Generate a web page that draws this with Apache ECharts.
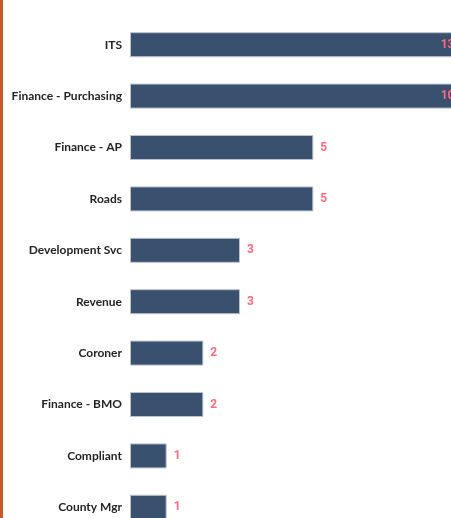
<!DOCTYPE html>
<html>
<head>
<meta charset="utf-8">
<script src="https://cdn.jsdelivr.net/npm/echarts@6/dist/echarts.min.js"></script>
<style>
  html, body { margin: 0; padding: 0; background: #fff; }
  #chart { width: 451px; height: 518px; }
</style>
</head>
<body>
<div id="chart"></div>
<script>
// 部门与数量（从上到下）
const departments = ['ITS', 'Finance - Purchasing', 'Finance - AP', 'Roads', 'Development Svc',
  'Revenue', 'Coroner', 'Finance - BMO', 'Compliant', 'County Mgr'];
const counts = [13, 10, 5, 5, 3, 3, 2, 2, 1, 1];

// 可见轴范围（原图被裁切，超出的柱子截断显示）
const axisMax = 9;

const chart = echarts.init(document.getElementById('chart'));

const option = {
  animation: false,
  graphic: [
    {
      type: 'rect',
      left: 0,
      top: 0,
      shape: { width: 3, height: 518 },
      style: { fill: '#c55a28' }
    }
  ],
  // 绘图区比画布更宽更高，与原图的裁切一致
  grid: { left: 130, top: 19, width: 330, height: 514, outerBoundsMode: 'none' },
  xAxis: {
    type: 'value',
    min: 0,
    max: axisMax,
    show: false
  },
  yAxis: {
    type: 'category',
    inverse: true,
    data: departments,
    axisLine: { show: false },
    axisTick: { show: false },
    axisLabel: {
      margin: 8,
      color: '#252423',
      fontFamily: 'Lato',
      fontWeight: 'bold',
      fontSize: 12
    }
  },
  series: [
    {
      type: 'bar',
      clip: true,
      barWidth: 25,
      data: counts.map(v => ({
        value: v,
        label: v > axisMax ? { position: 'insideRight', distance: 6 } : undefined
      })),
      itemStyle: {
        color: '#3a506f',
        borderColor: '#b9c2cf',
        borderWidth: 1
      },
      label: {
        show: true,
        position: 'right',
        distance: 7,
        color: '#fd6b7c',
        fontFamily: 'Roboto',
        fontWeight: 'bold',
        fontSize: 12
      }
    }
  ]
};

chart.setOption(option);
</script>
</body>
</html>
